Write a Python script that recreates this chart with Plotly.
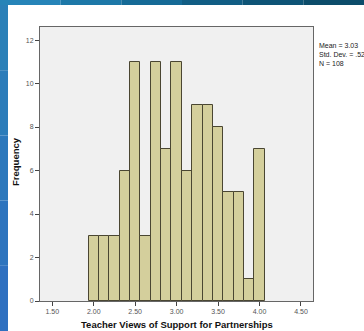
import plotly.graph_objects as go

bin_centers = [2.0, 2.125, 2.25, 2.375, 2.5, 2.625, 2.75, 2.875, 3.0, 3.125,
               3.25, 3.375, 3.5, 3.625, 3.75, 3.875, 4.0]
frequency = [3, 3, 3, 6, 11, 3, 11, 7, 11, 6, 9, 9, 8, 5, 5, 1, 7]
x_ticks = [1.5, 2.0, 2.5, 3.0, 3.5, 4.0, 4.5]
x_tick_labels = ["1.50", "2.00", "2.50", "3.00", "3.50", "4.00", "4.50"]
y_ticks = [0, 2, 4, 6, 8, 10, 12]
stats_lines = ["Mean = 3.03", "Std. Dev. = .52", "N = 108"]
x_title = "Teacher Views of Support for Partnerships"
y_title = "Frequency"

W, H = 364, 331
L, R, T, B = 40, 51, 27, 30
pw, ph = W - L - R, H - T - B

def px_x(p):
    return (p - L) / pw

def px_y(p):
    return 1 - (p - T) / ph

fig = go.Figure()
fig.add_trace(go.Bar(
    x=bin_centers, y=frequency, width=0.125,
    marker=dict(color="#d4cf9c", line=dict(color="#4a4632", width=1)),
    hoverinfo="x+y",
))

shapes = []
blues_left = ["#2a80b8", "#2b7cba", "#2c78bc", "#2d74be", "#2e70c0"]
n = len(blues_left)
for i, c in enumerate(blues_left):
    y0 = 5 + i * (H - 5) / n
    y1 = 5 + (i + 1) * (H - 5) / n
    shapes.append(dict(type="rect", xref="paper", yref="paper",
                       x0=px_x(0), x1=px_x(8), y0=px_y(y1), y1=px_y(y0),
                       fillcolor=c, line=dict(width=0), layer="below"))
blues_top = ["#2684b8", "#1d78a8", "#156a96", "#115d84", "#0e5476", "#0c4c6a"]
n = len(blues_top)
for i, c in enumerate(blues_top):
    x0 = i * W / n
    x1 = (i + 1) * W / n
    shapes.append(dict(type="rect", xref="paper", yref="paper",
                       x0=px_x(x0), x1=px_x(x1), y0=px_y(5), y1=px_y(0),
                       fillcolor=c, line=dict(width=0), layer="below"))

annotations = [
    dict(text="<br>".join(stats_lines), xref="paper", yref="paper",
         x=px_x(317), y=px_y(40), xanchor="left", yanchor="top", align="left",
         showarrow=False, font=dict(family="Arial, Liberation Sans", size=7, color="#222")),
    dict(text="<b>" + x_title + "</b>", xref="paper", yref="paper",
         x=px_x(177), y=px_y(325), xanchor="center", yanchor="middle",
         showarrow=False, font=dict(family="Arial, Liberation Sans", size=9.5, color="#111")),
    dict(text="<b>" + y_title + "</b>", xref="paper", yref="paper",
         x=px_x(15), y=px_y(162), xanchor="center", yanchor="middle", textangle=-90,
         showarrow=False, font=dict(family="Arial, Liberation Sans", size=9.5, color="#111")),
]

fig.update_layout(
    width=W, height=H,
    margin=dict(l=L, r=R, t=T, b=B),
    paper_bgcolor="white", plot_bgcolor="#f0f0f0",
    showlegend=False, bargap=0,
    shapes=shapes, annotations=annotations,
    font=dict(family="Arial, Liberation Sans", color="#555"),
    xaxis=dict(range=[1.352, 4.645], tickvals=x_ticks, ticktext=x_tick_labels,
               ticks="outside", ticklen=4, tickcolor="#444", tickfont=dict(size=7),
               showgrid=False, zeroline=False, showline=True, linecolor="#666",
               mirror=True, linewidth=1),
    yaxis=dict(range=[0, 12.6], tickvals=y_ticks, ticks="outside", ticklen=4,
               tickcolor="#444", tickfont=dict(size=7),
               showgrid=False, zeroline=False, showline=True, linecolor="#666",
               mirror=True, linewidth=1),
)

fig.write_html("out.html")
